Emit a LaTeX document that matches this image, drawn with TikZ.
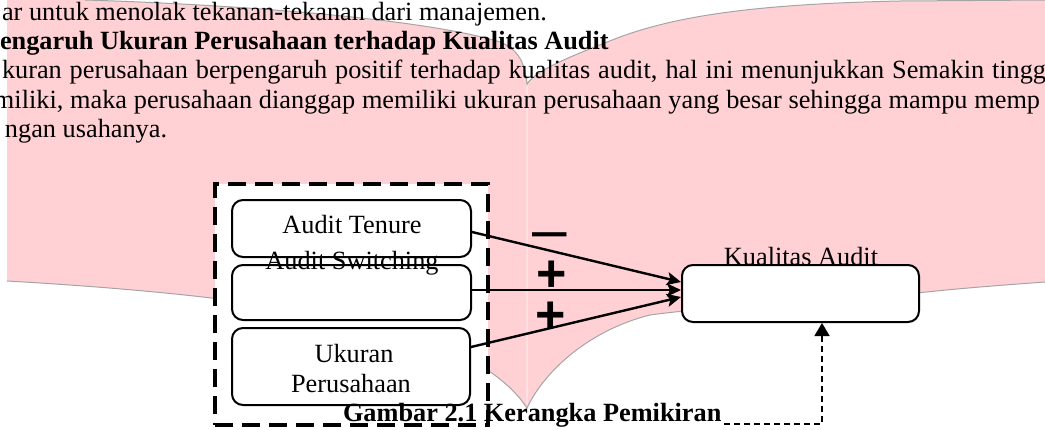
\documentclass[tikz,border=0pt]{standalone}
\usepackage{fontspec}
\setmainfont{Liberation Serif}
\newfontfamily\signfont{Liberation Sans}
\usetikzlibrary{arrows.meta,calc}
\definecolor{pinkfill}{RGB}{255,209,212}
\definecolor{pinkseam}{RGB}{255,224,226}
\definecolor{pinkedge}{RGB}{165,165,165}
\tikzset{
 bodytxt/.style={font=\fontsize{26.3}{30}\selectfont, inner sep=0pt, outer sep=0pt, anchor=base west},
 lbl/.style={font=\fontsize{26.3}{30}\selectfont, inner sep=0pt, anchor=base},
 varbox/.style={draw, line width=2pt, rounded corners=11pt, fill=white, inner sep=0pt},
 groupbox/.style={draw, line width=4pt, dash pattern=on 18pt off 9pt, fill=white, inner sep=0pt},
 arr/.style={line width=2.4pt, -{Stealth[length=14pt,width=13pt,inset=3pt]}},
 ctrlarr/.style={line width=1.6pt, dash pattern=on 6pt off 4pt, -{Triangle[length=13pt,width=15pt]}},
 sign/.style={font=\signfont\bfseries\fontsize{52}{52}\selectfont, inner sep=0pt, anchor=base},
 minussign/.style={font=\signfont\fontsize{62}{62}\selectfont, inner sep=0pt, anchor=base},
}
\begin{document}
\begin{tikzpicture}[x=1pt,y=-1pt]
\useasboundingbox (0,0) rectangle (1045,429);
\clip (0,0) rectangle (1045,429);
% pink background shape
\fill[pinkfill] (7,-2) -- (85,-2) -- (85,0)
  .. controls (250,5) and (430,20) .. (500,42)
  .. controls (520,50) and (525,65) .. (527,84)
  .. controls (535,72) and (560,60) .. (620,37)
  .. controls (680,15) and (760,4) .. (900,1)
  -- (1047,0) -- (1047,282) -- (1045,282)
  .. controls (990,286) and (940,290) .. (900,295)
  .. controls (800,302) and (700,308) .. (650,315)
  .. controls (590,330) and (545,370) .. (527,408)
  .. controls (515,390) and (500,378) .. (480,365)
  .. controls (400,320) and (250,295) .. (7,281)
  -- cycle;
\draw[pinkseam, line width=2pt] (527,86) -- (527,404);
\draw[pinkedge, line width=1pt] (85,0)
  .. controls (250,5) and (430,20) .. (500,42)
  .. controls (520,50) and (525,65) .. (527,84)
  .. controls (535,72) and (560,60) .. (620,37)
  .. controls (680,15) and (760,4) .. (900,1)
  -- (1047,0);
\draw[pinkedge, line width=1pt] (1047,282) -- (1045,282)
  .. controls (990,286) and (940,290) .. (900,295)
  .. controls (800,302) and (700,308) .. (650,315)
  .. controls (590,330) and (545,370) .. (527,408)
  .. controls (515,390) and (500,378) .. (480,365)
  .. controls (400,320) and (250,295) .. (7,281);
% body text
\node[bodytxt] (l1) at (2,20) {ar untuk menolak tekanan-tekanan dari manajemen.};
\node[bodytxt, font=\fontsize{26.3}{30}\selectfont\bfseries] (l2) at (0,49) {engaruh Ukuran Perusahaan terhadap Kualitas Audit};
\node[bodytxt] (l3) at (2,78) {\makebox[1044pt][s]{kuran perusahaan berpengaruh positif terhadap kualitas audit, hal ini menunjukkan Semakin tingg}};
\node[bodytxt] (l4) at (-6,108) {\makebox[1046pt][s]{miliki, maka perusahaan dianggap memiliki ukuran perusahaan yang besar sehingga mampu memp}};
\node[bodytxt] (l5) at (5,137) {ngan usahanya.};
% diagram
\node[groupbox, minimum width=273pt, minimum height=241pt] (grp) at (351.5,304.5) {};
\node[varbox, minimum width=239pt, minimum height=57pt] (b1) at (351.5,228.5) {};
\node[varbox, minimum width=239pt, minimum height=55pt] (b2) at (351.5,292.5) {};
\node[varbox, minimum width=238pt, minimum height=77pt] (b3) at (351,366.5) {};
\node[varbox, minimum width=237pt, minimum height=57pt] (kb) at (800.5,293.5) {};
\node[lbl] (t1) at (352,233) {Audit Tenure};
\node[lbl] (t2) at (352,269) {Audit Switching};
\node[lbl] (t3a) at (354,362) {Ukuran};
\node[lbl] (t3b) at (351,392) {Perusahaan};
\node[lbl] (tk) at (801,265) {Kualitas Audit};
% arrows
\draw[arr] ($(b1.east)+(0,3.5)$) -- ($(kb.west)+(0,-11.5)$);
\draw[arr] ($(b2.east)+(0,-2.5)$) -- ($(kb.west)+(0,-3.5)$);
\draw[arr] ($(b3.east)+(0,-19.5)$) -- ($(kb.west)+(0,3.5)$);
% signs
\node[minussign] (s1) at (549.5,250.5) {–};
\node[sign] (s2) at (551.5,291.5) {+};
\node[sign] (s3) at (550.5,332) {+};
% control path
\coordinate (cstart) at (724,424);
\coordinate (ccorner) at (822,424);
\draw[ctrlarr] (cstart) -- (ccorner) -- (ccorner |- kb.south);
% caption
\node[bodytxt, font=\fontsize{26.3}{30}\selectfont\bfseries] (cap) at (343,421) {Gambar 2.1 Kerangka Pemikiran};
\end{tikzpicture}
\end{document}
